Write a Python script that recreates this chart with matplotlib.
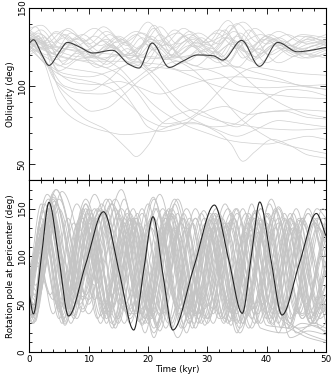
import numpy as np
import matplotlib.pyplot as plt
from matplotlib.ticker import MultipleLocator

# highlighted run, obliquity (time kyr, deg) read at turning points
obl_t = [0, 0.7, 2.0, 3.3, 5.0, 6.4, 8.5, 10.7, 14.0, 16.8, 18.5, 20.7, 23.6,
         25.7, 28.4, 31.0, 32.6, 35.8, 38.8, 41.9, 45.2, 47.5, 50]
obl_v = [127.6, 129.7, 121.0, 113.3, 121.5, 128.0, 125.0, 121.2, 123.0, 114.0,
         111.6, 127.6, 112.0, 115.7, 120.0, 119.5, 116.7, 129.3, 112.7, 128.0,
         122.0, 123.0, 124.8]

# highlighted run, rotation pole at pericenter
rot_t = [0, 0.67, 2.0, 3.3, 5.0, 6.6, 9.5, 12.5, 15.1, 17.6, 19.2, 20.85, 22.5,
         24.2, 27.7, 31.2, 33.6, 35.9, 37.4, 38.85, 40.7, 42.6, 45.5, 48.4, 50]
rot_v = [60, 39.8, 98, 156.6, 97, 37.7, 92, 146.8, 85, 23, 82, 141.6, 82,
         23, 88, 153.8, 97, 40.5, 99, 157, 98, 38.7, 92, 145, 122]

# other runs, obliquity: runs staying in the main band
obl_band = [
    [(0,132),(2,136),(5,125),(8.5,131),(12,122),(15.5,130),(19,120),(22,133),(25.5,121),(29,131),(32.5,119),(35.5,134),(39,121),(42.5,129),(46,122),(50,127)],
    [(0,124),(1.5,127),(4.5,117),(7.5,129),(11,118),(14,126),(17.5,116),(21,137),(24.5,118),(28,128),(31,124),(34,139),(37.5,117),(41,130),(45,123),(50,129)],
    [(0,135),(1,138),(4,121),(7,134),(10.5,125),(13.5,133),(17,121),(20.5,130),(23.5,123),(27,135),(30.5,126),(33,131),(36.5,122),(40,132),(44,124),(47.5,131),(50,128)],
    [(0,128),(2.5,131),(5.5,116),(9,124),(12.5,117),(16,128),(19.5,115),(22.5,129),(26,118),(30,127),(33.5,116),(37,136),(40.5,120),(44,126),(48,119),(50,121)],
    [(0,130),(1.5,134),(4,128),(6.5,137),(10,127),(13,135),(16.5,126),(20,141),(23.5,126),(27,133),(30,128),(33.5,142),(37,125),(40.5,133),(44,126),(47,132),(50,127)],
    [(0,122),(2,125),(5,113),(8,121),(11.5,112),(14.5,120),(18,113),(21.5,125),(25,114),(28.5,122),(32,115),(35,126),(38.5,114),(42,124),(46,118),(50,123)],
    [(0,133),(2,128),(4.5,134),(8,126),(11,132),(14.5,124),(18,133),(21,123),(24.5,136),(28,125),(31.5,134),(35,124),(38,137),(42,126),(45.5,132),(50,129)],
    [(0,126),(1,130),(4,119),(7,125),(10,118),(13.5,127),(17,118),(20.5,132),(24,120),(27.5,130),(31,121),(34.5,128),(38,119),(41.5,127),(45,121),(50,125)],
    [(0,137),(2,139),(5.5,127),(9,133),(12,126),(15,132),(18.5,124),(22,138),(25,127),(28.5,134),(32,127),(35,140),(38.5,128),(42,135),(46,128),(50,133)],
    [(0,120),(3,126),(6,114),(9.5,122),(13,114),(16.5,124),(20,113),(23,127),(26.5,116),(30,124),(33,113),(36.5,128),(40,115),(43.5,123),(47,118),(50,121)],
    [(0,129),(1.5,132),(3.5,124),(6,133),(9.5,123),(13,130),(16,120),(19,131),(22.5,119),(26,132),(29.5,122),(33,136),(36,118),(39.5,130),(43,124),(47,130),(50,126)],
    [(0,131),(2.5,124),(6,131),(9,122),(12.5,129),(16,119),(19.5,127),(23,117),(26.5,129),(30,119),(33.5,131),(37,121),(40.5,131),(44,123),(48,128),(50,126)],
    [(0,127),(2,133),(5,122),(8,130),(11.5,121),(15,131),(18,122),(21,139),(24,124),(27.5,131),(31,122),(34.5,135),(38,123),(42,131),(45.5,124),(50,128)],
    [(0,125),(2,129),(5,110),(9,118),(13,112),(17,121),(20.5,110),(24,120),(28,113),(31.5,122),(35,112),(38.5,124),(42,115),(46,121),(50,118)],
    [(0,134),(3,128),(6,136),(9.5,129),(12.5,138),(16,128),(19,134),(22.5,126),(26,137),(29.5,128),(33,133),(36,141),(40,127),(43.5,133),(47,127),(50,130)],
    [(0,123),(1.5,128),(4.5,120),(7.5,127),(11,119),(14,125),(17.5,117),(21,128),(24.5,119),(28,126),(31.5,118),(35,132),(38.5,118),(42,128),(46,120),(50,124)],
    [(0,130),(2,127),(4.5,135),(7.5,130),(11,137),(14.5,128),(18,135),(21.5,129),(25,134),(28.5,127),(32,136),(35.5,128),(39,133),(42.5,127),(46,133),(50,131)],
    [(0,128),(3,120),(6.5,127),(10,119),(13.5,126),(17,118),(20,129),(23.5,118),(27,126),(30.5,118),(34,127),(37.5,116),(41,126),(44.5,119),(48,126),(50,124)],
]

# other runs, obliquity: runs leaving the band
obl_low = [
    [(0,131),(2,128),(5,108),(8,102),(12,101),(15,103),(18,100),(22,95),(26,100),(30,104),(35,106),(40,104),(45,101),(50,98)],
    [(0,126),(2,120),(4.5,103),(8,96),(12,95),(15,98),(18,105),(21,112),(24,111),(27,107),(31,101),(35,97),(40,95),(45,93),(50,92)],
    [(0,129),(2.5,118),(5,100),(8,90),(10.5,84),(13,86),(16,95),(19,105),(22,112),(25,116),(28,113),(32,108),(36,100),(40,99),(45,100),(50,101)],
    [(0,136),(2,130),(5,98),(9,80),(13,72),(16.5,60),(18,55),(20,62),(22,75),(25,82),(28,85),(31,80),(35,74),(39,83),(43,84),(47,80),(50,79)],
    [(0,132),(2.5,115),(5,88),(9,76),(13,71),(16,69),(19,70),(22,72),(25,76),(28,76),(32,70),(34,63),(36,52),(38,58),(41,66),(44,62),(47,56),(50,54)],
    [(0,130),(3,115),(6,100),(10,97),(13,103),(16,113),(18,116),(21,108),(24,95),(27,85),(30,80),(33,77),(36,75),(40,73),(45,72),(50,73)],
    [(0,127),(3,122),(6,118),(9,116),(12,113),(15,108),(18,97),(21,82),(23,76),(26,78),(29,85),(32,97),(35,107),(38,112),(42,110),(46,108),(50,107)],
    [(0,133),(3,127),(6,124),(9,121),(12,118),(15,112),(18,100),(21,88),(24,80),(27,74),(30,70),(33,66),(36,64),(40,63),(44,66),(47,68),(50,66)],
    [(0,125),(3,118),(6,112),(9,110),(12,108),(15,100),(18,85),(20,74),(22,71),(25,73),(29,83),(33,87),(37,82),(41,84),(45,85),(50,84)],
    [(0,131),(4,125),(8,123),(12,121),(16,120),(20,118),(24,117),(27,112),(30,102),(33,90),(36,78),(39,70),(42,64),(46,60),(50,57)],
    [(0,128),(4,121),(8,117),(12,116),(16,116),(19,112),(22,100),(25,86),(28,78),(31,74),(34,75),(37,82),(40,92),(44,98),(47,97),(50,94)],
    [(0,124),(3,114),(6,108),(10,106),(14,110),(18,115),(22,114),(26,110),(30,111),(34,113),(38,109),(42,105),(46,100),(50,98)],
    [(0,135),(4,124),(8,119),(12,118),(16,120),(20,119),(24,118),(28,120),(32,117),(35,110),(38,100),(41,92),(44,86),(47,82),(50,80)],
    [(0,126),(3,113),(6,106),(9,104),(13,100),(17,88),(20,78),(23,74),(27,77),(31,73),(35,68),(38,72),(42,78),(46,76),(50,74)],
]

# other runs, rotation pole at pericenter (turning points)
rot_runs = [
    [(0,55),(0.5,45),(3,150),(6.5,40),(11,150),(15,35),(19,145),(23.5,30),(28,140),(32,35),(36.5,145),(41,30),(45.5,140),(50,40)],
    [(0,70),(1,60),(4,165),(8.5,50),(13,160),(17.5,40),(21.5,150),(26,25),(30.5,138),(35,30),(39,150),(43.5,25),(48,135),(50,120)],
    [(0,45),(0.8,38),(2.5,130),(5.5,30),(9,140),(12.5,35),(16,135),(19.5,20),(23,145),(27,30),(30.5,130),(34,28),(37.5,142),(41,35),(44.5,135),(48,30),(50,50)],
    [(0,80),(2,120),(5,45),(9.5,160),(14,60),(18,135),(22,40),(26.5,150),(31,45),(35,145),(39.5,50),(44,140),(48.5,55),(50,70)],
    [(0,60),(0.6,50),(4.5,170),(10,55),(14.5,150),(19,30),(24,145),(29,40),(33,135),(37.5,25),(42,150),(46,35),(50,120)],
    [(0,40),(1,32),(3.5,140),(7,40),(10.5,145),(14,45),(17.5,140),(21,35),(24.5,130),(28,40),(31.5,135),(35,45),(38.5,125),(42,40),(45.5,138),(49,45),(50,55)],
    [(0,75),(1.5,90),(4,55),(8,155),(12.5,50),(17,140),(21,25),(25.5,135),(30,35),(34.5,140),(38.5,30),(43,145),(47,40),(50,90)],
    [(0,50),(0.7,42),(3.2,150),(6.8,48),(10,135),(13,30),(16.5,150),(20.5,50),(24,145),(27.5,25),(31,130),(34.5,40),(38,148),(42,20),(46,140),(50,45)],
    [(0,65),(2,140),(6,30),(11,165),(16,50),(20.5,130),(25,15),(30,125),(34,45),(38,140),(42.5,35),(47,145),(50,90)],
    [(0,35),(0.5,30),(3,125),(6,28),(9.5,130),(13,40),(16.5,125),(20,30),(23.5,135),(27,45),(30.5,138),(34,35),(37.5,128),(41,45),(44.5,130),(48,38),(50,70)],
    [(0,85),(1,70),(5,160),(10,40),(15.5,170),(20,45),(24.5,160),(29,55),(33.5,150),(38,45),(42,152),(46.5,50),(50,130)],
    [(0,55),(1.2,40),(4,145),(7.5,35),(11,130),(14.5,25),(18,140),(21.5,30),(25,145),(28.5,35),(32,140),(35.5,30),(39,138),(42.5,25),(46,135),(50,30)],
    [(0,48),(2.5,155),(7,45),(12,150),(17,35),(22,165),(26.5,40),(31,145),(35.5,20),(40,135),(44,30),(48,140),(50,110)],
    [(0,72),(1.5,105),(4,40),(7.5,135),(11,55),(15,145),(19,45),(23,140),(27,50),(31,145),(35,40),(39,150),(43,45),(47,145),(50,80)],
    [(0,58),(1,48),(5.5,168),(11,70),(15.5,150),(20.5,40),(25,160),(29.5,35),(34,145),(38.5,40),(43,140),(47.5,30),(50,60)],
    [(0,42),(0.5,36),(2.8,135),(5.8,35),(9,150),(12.5,40),(16,135),(19.5,30),(23,130),(26.5,20),(30,135),(33.5,30),(37,140),(40.5,35),(44,130),(47.5,30),(50,85)],
    [(0,62),(3.5,150),(7,60),(10.5,140),(14.5,35),(18.5,135),(22.5,40),(26.5,130),(30,30),(34,138),(38,30),(42,135),(46,35),(50,130)],
    [(0,52),(1,44),(4,160),(8,35),(12,145),(16,30),(20,155),(24,25),(28,140),(32,40),(36,150),(40,35),(44,145),(48,30),(50,55)],
    [(0,78),(2,130),(5.5,50),(9,145),(13,45),(17,130),(21,20),(25,125),(29,30),(33,130),(37,25),(41,140),(45,20),(48,30),(50,25)],
    [(0,45),(3,140),(6.5,55),(10,150),(14,48),(18,140),(22,38),(26,145),(30,48),(34,130),(38,40),(42,140),(46,38),(50,135)],
    [(0,66),(1.5,55),(4.5,155),(9,45),(13.5,160),(18,40),(22.5,150),(27,30),(31,140),(35.5,25),(40,145),(44,35),(48.5,150),(50,140)],
    [(0,38),(0.7,30),(3.5,138),(7,30),(10.5,125),(14,25),(17.5,140),(21,15),(24.5,128),(28,25),(31.5,130),(35,20),(38.5,135),(42,30),(45.5,125),(49,25),(50,30)],
    [(0,58),(4,162),(9,55),(14,155),(19,40),(23,140),(27,35),(31.5,150),(36,30),(40,130),(44,15),(47,22),(50,18)],
    [(0,82),(1.2,95),(3.5,60),(6.5,140),(10,50),(13.5,135),(17,40),(20.5,140),(24,30),(27.5,135),(31,40),(34.5,140),(38,50),(41.5,130),(45,40),(48.5,130),(50,115)],
    [(0,50),(2.2,148),(5.5,38),(9.5,155),(13.5,42),(17.5,150),(21.5,28),(25.5,135),(29.5,45),(33.5,135),(37.5,35),(41.5,150),(45.5,40),(49.5,140),(50,138)],
    [(0,68),(3,165),(8,60),(12.5,145),(17,45),(21,160),(25.5,35),(29.5,140),(34,50),(38,145),(42.5,40),(46.5,20),(50,12)],
    [(0,44),(1,35),(3.8,145),(7.5,38),(11.5,140),(15,30),(19,150),(23,25),(27,140),(31,30),(35,150),(39,25),(43,20),(46,30),(50,22)],
    [(0,60),(2.5,135),(6,45),(9.5,150),(13,35),(17,145),(21,40),(24.5,155),(28.5,30),(32.5,140),(36.5,35),(40.5,155),(44.5,38),(48.5,140),(50,130)],
    [(0,74),(2,155),(5,42),(8.5,140),(12,38),(16,160),(20,35),(24,142),(28,38),(32,145),(36,30),(40,142),(44,25),(48,135),(50,120)],
    [(0,55),(0.6,48),(3,150),(6.2,45),(9.5,155),(13,50),(16.5,145),(20,42),(23.5,150),(27,40),(30.5,145),(34,42),(37.5,155),(41,40),(44.5,145),(48,40),(50,60)],
    [(0,47),(2,125),(5,35),(8.5,128),(12,30),(15.5,125),(19,28),(22.5,120),(26,30),(29.5,125),(33,32),(36.5,130),(40,28),(43.5,25),(47,15),(50,10)],
    [(0,63),(4.5,170),(9.5,60),(14.5,160),(19.5,35),(24,150),(28.5,40),(33,155),(37.5,45),(41.5,148),(46,40),(50,140)],
    [(0,40),(3,135),(6,32),(9,140),(12.5,45),(16,140),(19.5,35),(23,135),(26.5,38),(30,130),(33.5,45),(37,135),(40.5,30),(44,140),(47.5,35),(50,110)],
    [(0,76),(1.5,62),(5,150),(9,58),(13,148),(17,30),(21,140),(25,45),(29,145),(33,35),(37,145),(41,45),(45,150),(49,40),(50,45)],
    [(0,57),(0.8,46),(3.6,142),(7.2,42),(10.8,138),(14.3,28),(18.2,145),(22,22),(25.8,140),(29.6,28),(33.2,132),(36.8,38),(40.3,145),(44,30),(47.8,138),(50,100)],
    [(0,68),(2.8,128),(6.8,38),(11.5,150),(15.8,45),(20,135),(23.8,35),(28,150),(32.5,35),(36.8,135),(41,28),(45,132),(49,35),(50,40)],
    [(0,43),(0.6,37),(4.2,158),(9,42),(13.8,155),(18.5,32),(23.2,148),(27.5,42),(31.8,142),(36.2,40),(40.8,160),(45.2,42),(49.5,150),(50,148)],
    [(0,88),(1.8,120),(4.8,48),(8.2,135),(11.5,35),(15.2,140),(18.8,40),(22.2,130),(25.6,25),(29.2,120),(32.8,30),(36.4,125),(40,40),(43.6,130),(47.2,35),(50,85)],
    [(0,52),(3.3,145),(7.8,50),(12.2,155),(16.8,38),(21.2,150),(25.5,45),(29.8,135),(34.2,40),(38.2,130),(42.3,35),(45.5,25),(48,28),(50,20)],
    [(0,64),(1,54),(3.9,148),(6.9,50),(10.2,142),(13.6,38),(17,138),(20.6,35),(24,142),(27.8,30),(31.4,145),(35.2,32),(38.8,140),(42.6,45),(46,140),(49.6,42),(50,45)],
    [(0,48),(2.6,140),(5.9,36),(9.8,145),(13.9,30),(17.8,130),(21.6,25),(26,140),(30.2,35),(34.8,150),(39,30),(43.2,138),(47.4,30),(50,95)],
    [(0,73),(3.2,160),(7.5,52),(11.9,148),(16.3,42),(20.9,162),(25.2,40),(29.4,148),(33.8,32),(38.3,148),(42.8,40),(47,150),(50,80)],
]


def smooth(x, y, xn):
    # monotone cubic through the read points, only for drawing
    x = np.asarray(x, float)
    y = np.asarray(y, float)
    h = np.diff(x)
    d = np.diff(y) / h
    m = np.zeros_like(y)
    m[0], m[-1] = d[0], d[-1]
    for k in range(1, len(x) - 1):
        if d[k - 1] * d[k] > 0:
            w1 = 2 * h[k] + h[k - 1]
            w2 = h[k] + 2 * h[k - 1]
            m[k] = (w1 + w2) / (w1 / d[k - 1] + w2 / d[k])
    i = np.clip(np.searchsorted(x, xn) - 1, 0, len(h) - 1)
    s = (xn - x[i]) / h[i]
    return ((2*s**3 - 3*s**2 + 1) * y[i] + (s**3 - 2*s**2 + s) * h[i] * m[i]
            + (-2*s**3 + 3*s**2) * y[i + 1] + (s**3 - s**2) * h[i] * m[i + 1])


plt.rcParams['font.family'] = 'DejaVu Sans'
plt.rcParams['font.size'] = 6.3

fig = plt.figure(figsize=(3.32, 3.77), dpi=100)
ax1 = fig.add_axes([0.0885, 0.5225, 0.893, 0.4562])
ax2 = fig.add_axes([0.0885, 0.0663, 0.893, 0.4562], sharex=ax1)

tt = np.linspace(0, 50, 800)
for run in obl_band + obl_low:
    t, v = zip(*run)
    ax1.plot(tt, smooth(t, v, tt), color='#cfcfcf', lw=0.5)
ax1.plot(tt, smooth(obl_t, obl_v, tt), color='#3a3a3a', lw=0.8)

for run in rot_runs:
    t, v = zip(*run)
    ax2.plot(tt, smooth(t, v, tt), color='#c4c4c4', lw=0.65)
ax2.plot(tt, smooth(rot_t, rot_v, tt), color='#222222', lw=0.8)

ax1.set_ylim(40, 150)
ax2.set_ylim(0, 180)
ax2.set_xlim(0, 50)
ax1.set_ylabel('Obliquity (deg)', labelpad=2)
ax2.set_ylabel('Rotation pole at pericenter (deg)', labelpad=2)
ax2.set_xlabel('Time (kyr)', labelpad=1)

for ax in (ax1, ax2):
    ax.xaxis.set_major_locator(MultipleLocator(10))
    ax.xaxis.set_minor_locator(MultipleLocator(2))
    ax.yaxis.set_major_locator(MultipleLocator(50))
    ax.yaxis.set_minor_locator(MultipleLocator(10))
    ax.tick_params(which='both', direction='in', top=True, right=True, width=0.6, pad=2)
    ax.tick_params(which='major', length=4)
    ax.tick_params(which='minor', length=2)
    for lab in ax.get_yticklabels():
        lab.set_rotation(90)
        lab.set_va('center')
    for sp in ax.spines.values():
        sp.set_linewidth(0.8)
ax1.tick_params(labelbottom=False)

fig.savefig('out.png', dpi=100)
